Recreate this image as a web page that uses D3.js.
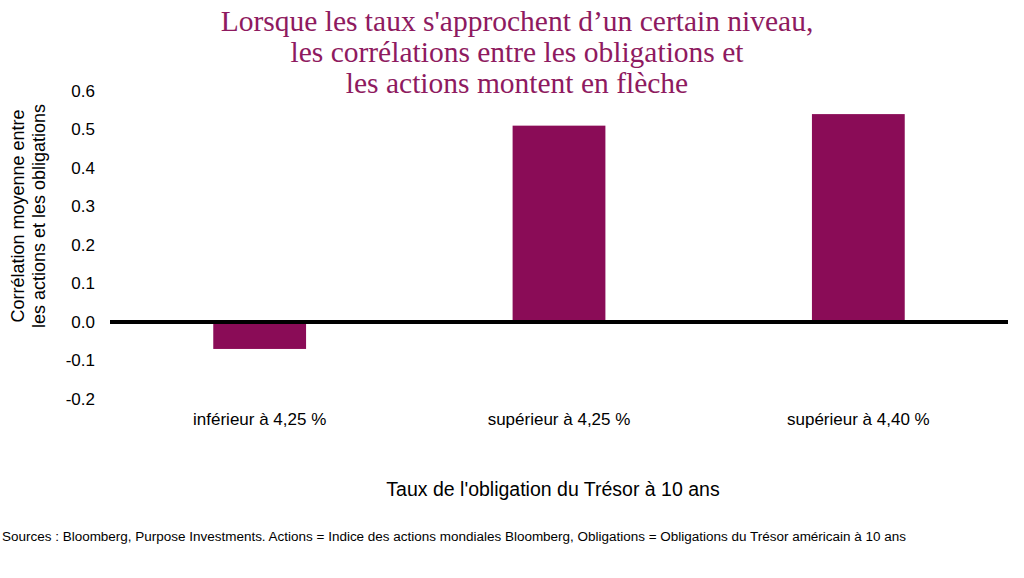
<!DOCTYPE html>
<html><head><meta charset="utf-8">
<script src="https://cdn.jsdelivr.net/npm/d3@7"></script>
<style>body{margin:0;background:#fff}svg{display:block}</style>
</head><body>
<svg id="c" width="1024" height="578"></svg>
<script>
const categories = ["inférieur à 4,25 %", "supérieur à 4,25 %", "supérieur à 4,40 %"];
const values = [-0.07, 0.51, 0.54];
const yTicks = [-0.2, -0.1, 0.0, 0.1, 0.2, 0.3, 0.4, 0.5, 0.6];
const titleLines = ["Lorsque les taux s'approchent d\u2019un certain niveau,", "les corrélations entre les obligations et", "les actions montent en flèche"];
const yTitleLines = ["Corrélation moyenne entre", "les actions et les obligations"];
const xTitle = "Taux de l'obligation du Trésor à 10 ans";
const source = "Sources : Bloomberg, Purpose Investments. Actions = Indice des actions mondiales Bloomberg, Obligations = Obligations du Trésor américain à 10 ans";

const svg = d3.select("#c");
const purple = "#8A0C57";
const x = d3.scaleBand().domain(categories).range([110, 1008]).paddingInner(0.69).paddingOuter(0.345);
const y = d3.scaleLinear().domain([-0.2, 0.6]).range([399, 91]);

// title
svg.append("g").selectAll("text").data(titleLines).join("text")
  .attr("x", 517).attr("y", (d, i) => 31 + i * 31)
  .attr("text-anchor", "middle").attr("font-family", "Liberation Serif, serif")
  .attr("font-size", 29.5).attr("fill", "#8E1A60").text(d => d);

// y axis tick labels
const ya = svg.append("g").attr("transform", "translate(95,0)")
  .call(d3.axisLeft(y).tickValues(yTicks).tickFormat(d3.format(".1f")).tickSize(0).tickPadding(0));
ya.select(".domain").remove();
ya.selectAll("text").attr("font-family", "Liberation Sans, Arial, sans-serif").attr("font-size", 17).attr("fill", "#000")
  .text(d => d3.format(".1f")(d).replace("−", "-"));

// bars
svg.append("g").selectAll("rect").data(values).join("rect")
  .attr("x", (d, i) => x(categories[i]))
  .attr("width", x.bandwidth())
  .attr("y", d => y(Math.max(0, d)))
  .attr("height", d => Math.abs(y(d) - y(0)))
  .attr("fill", purple);

// zero line
svg.append("line").attr("x1", 110).attr("x2", 1008).attr("y1", y(0)).attr("y2", y(0))
  .attr("stroke", "#000").attr("stroke-width", 4);

// category labels
const xa = svg.append("g").attr("transform", "translate(0,413)")
  .call(d3.axisBottom(x).tickSize(0).tickPadding(0));
xa.select(".domain").remove();
xa.selectAll("text").attr("font-family", "Liberation Sans, Arial, sans-serif").attr("font-size", 17).attr("fill", "#000");

// x title
svg.append("text").attr("x", 553).attr("y", 496).attr("text-anchor", "middle")
  .attr("font-family", "Liberation Sans, Arial, sans-serif").attr("font-size", 19.5).attr("fill", "#000").text(xTitle);

// y title
svg.append("g").attr("transform", "translate(0,216) rotate(-90)").selectAll("text").data(yTitleLines).join("text")
  .attr("x", 0).attr("y", (d, i) => 24 + i * 21).attr("text-anchor", "middle")
  .attr("font-family", "Liberation Sans, Arial, sans-serif").attr("font-size", 18).attr("fill", "#000").text(d => d);

// source
svg.append("text").attr("x", 2).attr("y", 541).attr("font-family", "Liberation Sans, Arial, sans-serif")
  .attr("font-size", 12).attr("fill", "#000").attr("textLength", 904).attr("lengthAdjust", "spacingAndGlyphs").text(source);
</script>
</body></html>
